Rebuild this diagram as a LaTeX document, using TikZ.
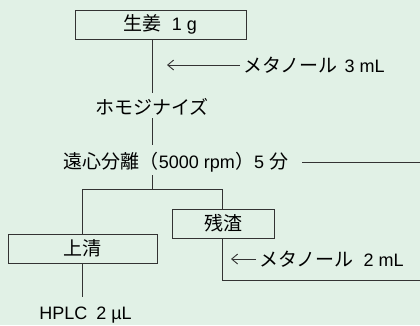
\documentclass[tikz,border=0pt]{standalone}
\usepackage{fontspec}
\setmainfont{Liberation Sans}
\newfontfamily\jp{Noto Sans CJK JP}
\usetikzlibrary{arrows.meta}
\definecolor{bg}{HTML}{E1F1E6}
\definecolor{ln}{HTML}{333333}
\tikzset{
  box/.style={draw=ln, line width=0.9pt, minimum height=29pt, inner sep=0pt, font=\fontsize{18}{20}\selectfont},
  lbl/.style={inner sep=0pt, font=\fontsize{18}{20}\selectfont},
  conn/.style={draw=ln, line width=0.9pt},
  arr/.style={conn, -{Straight Barb[length=6pt,width=10pt,line width=0.9pt]}}
}
\newcommand{\J}[1]{{\jp\fontsize{19}{20}\selectfont #1}}
\begin{document}
\begin{tikzpicture}[x=1pt,y=-1pt]
\useasboundingbox[fill=bg] (0,0) rectangle (420,325);
% boxes
\node[box, minimum width=171pt] (ginger) at (160.5,24.5) {\J{生姜}\hspace{10pt}1 g};
\node[box, minimum width=102pt] (residue) at (223,223.5) {\J{残渣}};
\node[box, minimum width=149pt] (super) at (82.5,248.5) {\J{上清}};
% labels
\node[lbl, anchor=west] (meth1) at (243,65) {\J{メタノール}\hspace{7pt}3 mL};
\node[lbl] (homo) at (152,107) {\J{ホモジナイズ}};
\node[lbl] (cent) at (176,162) {\J{遠心分離（}5000 rpm\J{）}5 \J{分}};
\node[lbl] (hplc) at (85.5,315) {HPLC\hspace{9pt}2 µL};
\node[lbl, anchor=west] (meth2) at (259,259) {\J{メタノール}\hspace{10pt}2 mL};
% coordinates
\coordinate (g1) at (152,39);
\coordinate (h1) at (152,93);
\coordinate (h2) at (152,118);
\coordinate (c1) at (152,145);
\coordinate (c2) at (152,175);
\coordinate (j) at (152,189);
\coordinate (jl) at (82,189);
\coordinate (jr) at (222,189);
\coordinate (a1e) at (167,65);
\coordinate (cr1) at (302,162);
\coordinate (cr2) at (420,162);
\coordinate (hp) at (82,297);
\coordinate (rb) at (222,280);
\coordinate (re) at (420,280);
\coordinate (a2e) at (231,259);
% connectors
\draw[conn] (g1) -- (h1);
\draw[conn] (h2) -- (c1);
\draw[conn] (c2) -- (j);
\draw[conn] (jl |- super.north) -- (jl) -- (jr) -- (jr |- residue.north);
\draw[conn] (jl |- super.south) -- (hp);
\draw[conn] (jr |- residue.south) -- (rb) -- (re);
\draw[conn] (cr1) -- (cr2);
\draw[arr] ([xshift=-3pt]meth1.west) -- (a1e);
\draw[arr] ([xshift=-3pt]meth2.west) -- (a2e);
\end{tikzpicture}
\end{document}
